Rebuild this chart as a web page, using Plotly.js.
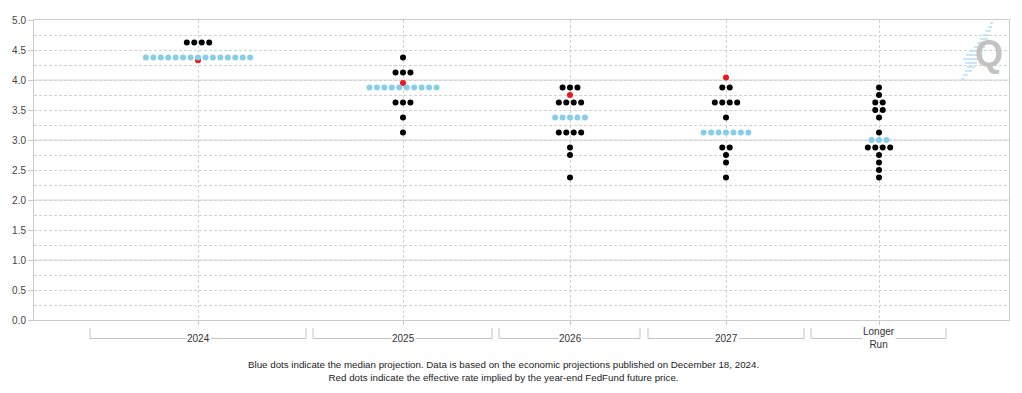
<!DOCTYPE html>
<html>
<head>
<meta charset="utf-8">
<script src="https://cdn.plot.ly/plotly-3.0.1.min.js"></script>
<style>
  html, body { margin: 0; padding: 0; background: #fff; }
  #chart { width: 1022px; height: 393px; }
</style>
</head>
<body>
<div id="chart"></div>
<script>
// ---------- DATA ----------
const categories = ["2024", "2025", "2026", "2027", "Longer<br>Run"];

// FOMC participants' projections: rate levels and number of dots at each level
const levels2024 = [4.625, 4.375];
const counts2024 = [4, 15];

const levels2025 = [4.375, 4.125, 3.875, 3.625, 3.375, 3.125];
const counts2025 = [1, 3, 10, 3, 1, 1];

const levels2026 = [3.875, 3.625, 3.375, 3.125, 2.875, 2.75, 2.375];
const counts2026 = [3, 4, 5, 4, 1, 1, 1];

const levels2027 = [3.875, 3.625, 3.375, 3.125, 2.875, 2.75, 2.625, 2.375];
const counts2027 = [2, 4, 1, 7, 2, 1, 1, 1];

const levelsLonger = [3.875, 3.75, 3.625, 3.5, 3.375, 3.125, 3.0, 2.875, 2.75, 2.625, 2.5, 2.375];
const countsLonger = [1, 1, 2, 2, 1, 1, 3, 4, 1, 1, 1, 1];

// Effective rate implied by year-end Fed Funds futures
const futuresRate = [4.33, 3.95, 3.75, 4.04, null];

const yTicks = [0, 0.5, 1, 1.5, 2, 2.5, 3, 3.5, 4, 4.5, 5];

// ---------- LAYOUT CONSTANTS ----------
const groupLevels = [levels2024, levels2025, levels2026, levels2027, levelsLonger];
const groupCounts = [counts2024, counts2025, counts2026, counts2027, countsLonger];
const centers = [164, 369, 536, 692, 845];        // x-axis units (plot px)
const bracketFrom = [56, 279, 465, 614, 777];
const bracketTo = [272, 458, 606, 770, 912];
const dotStep = 7.45;
const BLUE = "rgb(135,206,235)";

function medianOf(levels, counts) {
  const all = [];
  levels.forEach((v, i) => { for (let k = 0; k < counts[i]; k++) all.push(v); });
  all.sort((a, b) => a - b);
  return all[Math.floor(all.length / 2)];
}

const bx = [], by = [], mx = [], my = [], rx = [], ry = [];
groupLevels.forEach((levels, g) => {
  const med = medianOf(levels, groupCounts[g]);
  levels.forEach((v, i) => {
    const n = groupCounts[g][i];
    for (let k = 0; k < n; k++) {
      const x = centers[g] + (k - (n - 1) / 2) * dotStep;
      if (v === med) { mx.push(x); my.push(v); } else { bx.push(x); by.push(v); }
    }
  });
  if (futuresRate[g] !== null) { rx.push(centers[g]); ry.push(futuresRate[g]); }
});

const traces = [
  { type: "scatter", mode: "markers", x: rx, y: ry, hoverinfo: "skip",
    marker: { color: "#e8191a", size: 6, line: { width: 0 } } },
  { type: "scatter", mode: "markers", x: bx, y: by, hoverinfo: "skip",
    marker: { color: "#000000", size: 6, line: { width: 0 } } },
  { type: "scatter", mode: "markers", x: mx, y: my, hoverinfo: "skip",
    marker: { color: BLUE, size: 6, line: { width: 0 } } }
];

// ---------- DECORATION ----------
const W = 1022, H = 393, L = 34, R = 13, T = 20, B = 73;
const pw = W - L - R, ph = H - T - B;
const px2paperX = p => (p - L) / pw;
const px2paperY = p => (T + ph - p) / ph;

const shapes = [];
// solid integer gridlines
[1, 2, 3, 4].forEach(v => shapes.push({
  type: "line", xref: "paper", yref: "y", x0: 0, x1: 1, y0: v, y1: v,
  line: { color: "#d6d6d6", width: 1 }, layer: "below"
}));
// category brackets
const bTop = px2paperY(328), bBot = px2paperY(338.5);
centers.forEach((c, g) => shapes.push({
  type: "path", xref: "x", yref: "paper",
  path: `M ${bracketFrom[g]},${bTop} L ${bracketFrom[g]},${bBot} L ${bracketTo[g]},${bBot} L ${bracketTo[g]},${bTop}`,
  line: { color: "#c4c4c4", width: 1 }
}));
// logo streaks
const streaks = [[23,990,993],[27,988,992],[31,985,991],[35,983,989],[39,980,988],[43,977,987],
  [47,974,985],[51,970,983],[55,966,982],[59,963,980],[63,965,977],[67,967,975],[71,965,972],[75,963,968],[79,961,965]];
streaks.forEach(s => shapes.push({
  type: "line", xref: "paper", yref: "paper",
  x0: px2paperX(s[1]), x1: px2paperX(s[2]), y0: px2paperY(s[0]), y1: px2paperY(s[0]),
  line: { color: "#b3e1f4", width: 1.5 }
}));

const annotations = categories.map((c, g) => ({
  x: centers[g], y: px2paperY(338), xref: "x", yref: "paper",
  text: c, showarrow: false, bgcolor: "#ffffff", borderpad: 0,
  xanchor: "center", yanchor: "middle",
  font: { family: "Liberation Sans, Arial, sans-serif", size: 10, color: "#333333" }
}));
annotations.push({
  x: px2paperX(989), y: px2paperY(54), xref: "paper", yref: "paper",
  text: "<b>Q</b>", showarrow: false, xanchor: "center", yanchor: "middle",
  font: { family: "Liberation Sans, Arial, sans-serif", size: 36, color: "#c2c2c2" }
});
annotations.push({
  x: px2paperX(503.5), y: px2paperY(371), xref: "paper", yref: "paper",
  text: "Blue dots indicate the median projection. Data is based on the economic projections published on December 18, 2024.<br>Red dots indicate the effective rate implied by the year-end FedFund future price.",
  showarrow: false, xanchor: "center", yanchor: "middle", align: "center",
  font: { family: "Liberation Sans, Arial, sans-serif", size: 9.75, color: "#222222" }
});

const layout = {
  width: W, height: H,
  margin: { l: L, r: R, t: T, b: B, pad: 0 },
  paper_bgcolor: "#ffffff", plot_bgcolor: "#ffffff",
  showlegend: false,
  hovermode: false,
  xaxis: {
    range: [0, pw], tickmode: "array", tickvals: centers, ticktext: centers.map(() => ""),
    ticks: "outside", ticklen: 4, tickcolor: "#c8c8c8",
    showgrid: true, gridcolor: "#d2d2d2", griddash: "3px,2px", gridwidth: 1,
    showline: true, linecolor: "#cccccc", linewidth: 1, mirror: true,
    zeroline: false, fixedrange: true
  },
  yaxis: {
    range: [0, 5], tickmode: "array", tickvals: yTicks, tickformat: ".1f",
    ticks: "outside", ticklen: 5, tickcolor: "#c8c8c8",
    tickfont: { family: "Liberation Sans, Arial, sans-serif", size: 10, color: "#444444" },
    showgrid: true, gridcolor: "#d2d2d2", griddash: "3px,2px", gridwidth: 1,
    minor: { dtick: 0.25, tick0: 0, showgrid: true, gridcolor: "#d2d2d2", griddash: "3px,2px", ticks: "" },
    showline: true, linecolor: "#cccccc", linewidth: 1, mirror: true,
    zeroline: false, fixedrange: true
  },
  shapes: shapes,
  annotations: annotations
};

Plotly.newPlot("chart", traces, layout, { displayModeBar: false, staticPlot: true });
</script>
</body>
</html>
